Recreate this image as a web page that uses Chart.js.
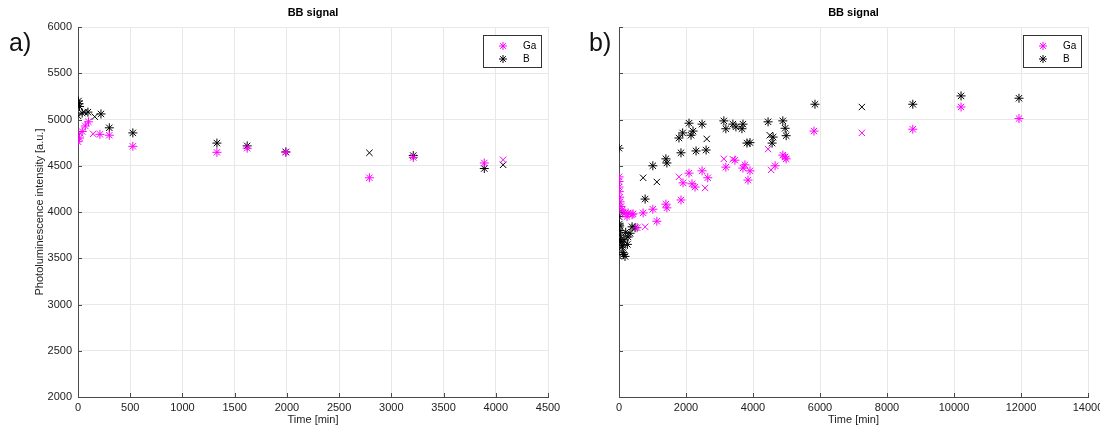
<!DOCTYPE html>
<html lang="en">
<head>
<meta charset="UTF-8">
<title>BB signal</title>
<script src="https://cdn.jsdelivr.net/npm/chart.js"></script>
<style>
    body {
        margin: 0;
        width: 1100px;
        height: 427px;
        background: #fff;
        position: relative;
        overflow: hidden;
        font-family: 'Liberation Sans', Arial, sans-serif;
    }
    .panel { position: absolute; top: 0; height: 427px; }
    #panelA { left: 0; width: 560px; }
    #panelB { left: 560px; width: 540px; }
    .tag {
        position: absolute;
        top: 28px;
        font-size: 25px;
        color: #111;
    }
</style>
</head>
<body>
<div class="panel" id="panelA"><canvas id="chartA"></canvas></div>
<div class="panel" id="panelB"><canvas id="chartB"></canvas></div>
<div class="tag" style="left:9px">a)</div>
<div class="tag" style="left:589px">b)</div>

<script>
// ---- panel a data (time in min, intensity in a.u.) ----
const aGaTime  = [0, 15, 40, 70, 100, 210, 300, 525, 1330, 1620, 1990, 2790, 3210, 3890];
const aGaValue = [4760, 4800, 4870, 4930, 4975, 4840, 4830, 4710, 4645, 4690, 4645, 4370, 4590, 4530];
const aGaXTime  = [20, 145, 4070];
const aGaXValue = [4850, 4845, 4565];
const aBTime  = [5, 10, 15, 40, 95, 220, 300, 525, 1330, 1620, 1990, 3210, 3890];
const aBValue = [5200, 5170, 5140, 5070, 5080, 5060, 4910, 4855, 4745, 4715, 4650, 4610, 4470];
const aBXTime  = [0, 60, 160, 2790, 4070];
const aBXValue = [5040, 5080, 5030, 4640, 4510];

// ---- panel b data ----
const bGaTime  = [0, 0, 0, 10, 20, 30, 60, 90, 120, 180, 240, 270, 390, 420, 540,
                  720, 1010, 1130, 1400, 1430, 1850, 1910, 2090, 2180, 2270, 2480, 2650,
                  3190, 3460, 3700, 3760, 3850, 3910, 4660, 4890, 4960, 4990, 5820, 8770, 10210, 11940];
const bGaValue = [4380, 4330, 4270, 4220, 4160, 4110, 4060, 4020, 3990, 3990, 3950, 3990, 3970, 3980, 3830,
                  3990, 4030, 3900, 4085, 4045, 4130, 4315, 4420, 4305, 4270, 4445, 4370,
                  4485, 4560, 4475, 4510, 4345, 4445, 4500, 4615, 4595, 4575, 4875, 4895, 5135, 5010];
const bGaXTime  = [780, 1790, 2570, 3130, 3400, 4450, 4540, 7250];
const bGaXValue = [3840, 4380, 4260, 4575, 4570, 4680, 4455, 4855];
const bBTime  = [0, 0, 10, 20, 30, 40, 50, 60, 90, 100, 120, 130, 150, 180, 200, 250, 270, 330, 390, 480,
                 780, 1010, 1400, 1430, 1790, 1850, 1900, 2090, 2150, 2210, 2300, 2480, 2600,
                 3130, 3190, 3400, 3490, 3670, 3700, 3820, 3910, 4450, 4570, 4600, 4890, 4960, 4990,
                 5850, 8770, 10210, 11940];
const bBValue = [4690, 3950, 3870, 3850, 3800, 3750, 3700, 3680, 3620, 3640, 3560, 3540, 3700, 3520, 3780, 3650, 3730, 3770, 3840, 3830,
                 4140, 4500, 4575, 4530, 4800, 4640, 4855, 4960, 4830, 4875, 4660, 4950, 4670,
                 4985, 4900, 4950, 4920, 4900, 4950, 4745, 4750, 4975, 4745, 4810, 4985, 4905, 4825,
                 5165, 5165, 5255, 5230];
const bBXTime  = [720, 1130, 2620, 4500, 7250];
const bBXValue = [4370, 4325, 4790, 4830, 5135];

const FONT = "'Liberation Sans', Arial, sans-serif";
const MAGENTA = '#ff00ff';

function pts(t, v) { return t.map((x, i) => ({ x: x, y: v[i] })); }

function series(label, t, v, color, style) {
    return {
        label: label,
        data: pts(t, v),
        pointStyle: style,
        pointRadius: 4.5,
        pointHoverRadius: 4.5,
        pointBorderWidth: 1,
        borderColor: color,
        backgroundColor: color
    };
}

function drawStar(ctx, x, y, r) {
    const d = r * Math.SQRT1_2;
    ctx.beginPath();
    ctx.moveTo(x - r, y); ctx.lineTo(x + r, y);
    ctx.moveTo(x, y - r); ctx.lineTo(x, y + r);
    ctx.moveTo(x - d, y - d); ctx.lineTo(x + d, y + d);
    ctx.moveTo(x - d, y + d); ctx.lineTo(x + d, y - d);
    ctx.stroke();
}

// inward ticks, title over the plot area, boxed legend in the top right corner
const decor = {
    id: 'decor',
    afterDraw(chart, args, opts) {
        const ctx = chart.ctx, a = chart.chartArea, sx = chart.scales.x, sy = chart.scales.y;
        ctx.save();
        ctx.strokeStyle = '#4a4a4a';
        ctx.lineWidth = 1;
        ctx.beginPath();
        sx.ticks.forEach(t => {
            const px = Math.round(sx.getPixelForValue(t.value)) + 0.5;
            ctx.moveTo(px, a.bottom); ctx.lineTo(px, a.bottom - 4);
        });
        sy.ticks.forEach(t => {
            const py = Math.round(sy.getPixelForValue(t.value)) + 0.5;
            ctx.moveTo(a.left, py); ctx.lineTo(a.left + 4, py);
        });
        ctx.stroke();

        ctx.fillStyle = '#000';
        ctx.font = 'bold 11px ' + FONT;
        ctx.textAlign = 'center';
        ctx.textBaseline = 'middle';
        ctx.fillText(opts.title, (a.left + a.right) / 2, 13);

        const w = 58, h = 32;
        const x0 = Math.round(a.right - 7 - w), y0 = Math.round(a.top + 8);
        ctx.fillStyle = '#fff';
        ctx.fillRect(x0, y0, w, h);
        ctx.strokeStyle = '#333';
        ctx.strokeRect(x0 + 0.5, y0 + 0.5, w, h);
        ctx.font = '10px ' + FONT;
        ctx.textAlign = 'left';
        const entries = chart.data.datasets.filter(d => d.label === 'Ga' || d.label === 'B');
        entries.forEach((d, i) => {
            const yy = y0 + 11 + i * 13;
            ctx.strokeStyle = d.borderColor;
            drawStar(ctx, x0 + 20, yy, 4);
            ctx.fillStyle = '#000';
            ctx.fillText(d.label, x0 + 40, yy);
        });
        ctx.restore();
    }
};

function makeChart(id, datasets, xMax, xStep, rightPad, yWidth, showY) {
    const grid = { color: '#e8e8e8', drawTicks: false };
    const border = { color: '#4a4a4a', width: 1 };
    const plain = v => String(v);
    return new Chart(document.getElementById(id), {
        type: 'scatter',
        data: { datasets: datasets },
        options: {
            responsive: true,
            maintainAspectRatio: false,
            animation: false,
            layout: { padding: { top: 27, right: rightPad, left: 0, bottom: 0 } },
            plugins: {
                legend: { display: false },
                tooltip: { enabled: false },
                decor: { title: 'BB signal' }
            },
            scales: {
                x: {
                    type: 'linear',
                    min: 0, max: xMax,
                    grid: grid, border: border,
                    ticks: { stepSize: xStep, autoSkip: false, maxRotation: 0, padding: 4,
                             callback: plain, color: '#222', font: { family: FONT, size: 11 } },
                    title: { display: true, text: 'Time [min]', color: '#222',
                             font: { family: FONT, size: 11 }, padding: { top: 0, bottom: 0 } },
                    afterFit(s) { s.height = 30; s.paddingLeft = 0; s.paddingRight = 0; }
                },
                y: {
                    min: 2000, max: 6000,
                    grid: grid, border: border,
                    ticks: { display: showY, stepSize: 500, padding: 6,
                             callback: plain, color: '#222', font: { family: FONT, size: 11 } },
                    title: { display: showY, text: 'Photoluminescence intensity [a.u.]', color: '#222',
                             font: { family: FONT, size: 11 }, padding: { top: 33, bottom: 0 } },
                    afterFit(s) { s.width = yWidth; s.paddingTop = 0; s.paddingBottom = 0; }
                }
            }
        },
        plugins: [decor]
    });
}

makeChart('chartA', [
    series('Ga', aGaTime, aGaValue, MAGENTA, 'star'),
    series('Ga x', aGaXTime, aGaXValue, MAGENTA, 'crossRot'),
    series('B', aBTime, aBValue, '#000', 'star'),
    series('B x', aBXTime, aBXValue, '#000', 'crossRot')
], 4500, 500, 12, 78, true);

makeChart('chartB', [
    series('Ga', bGaTime, bGaValue, MAGENTA, 'star'),
    series('Ga x', bGaXTime, bGaXValue, MAGENTA, 'crossRot'),
    series('B', bBTime, bBValue, '#000', 'star'),
    series('B x', bBXTime, bBXValue, '#000', 'crossRot')
], 14000, 2000, 12, 59, false);
</script>
</body>
</html>
